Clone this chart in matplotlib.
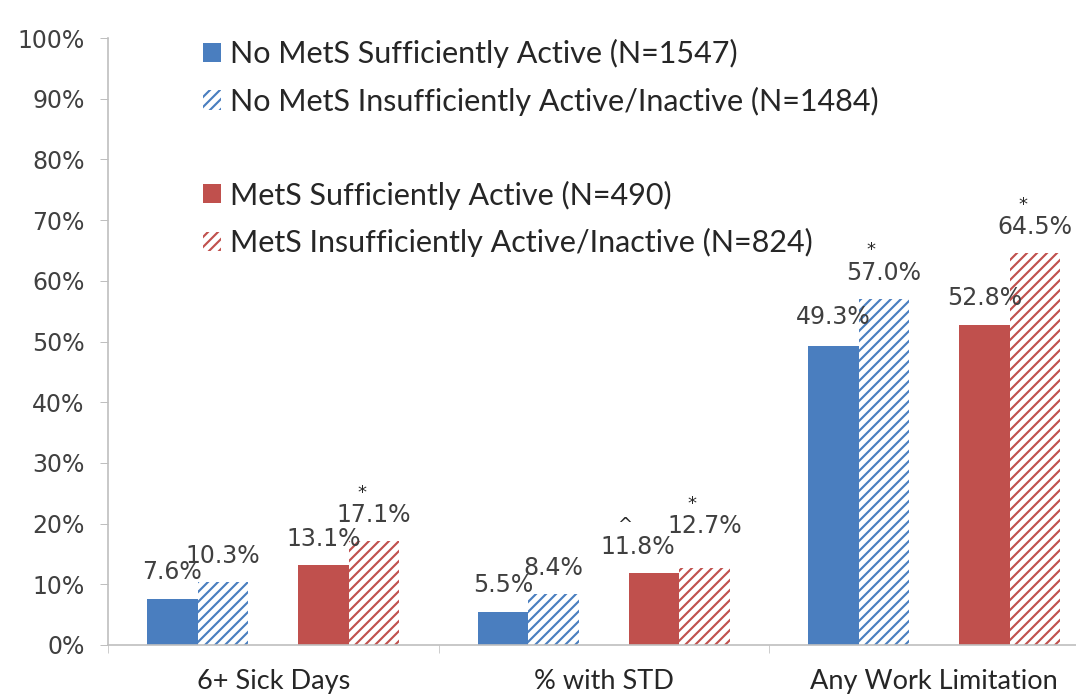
import numpy as np
import matplotlib.pyplot as plt
from matplotlib.patches import Patch

# categories and series (percent)
categories = ['6+ Sick Days', '% with STD', 'Any Work Limitation']
series_labels = ['No MetS Sufficiently Active (N=1547)',
                 'No MetS Insufficiently Active/Inactive (N=1484)',
                 'MetS Sufficiently Active (N=490)',
                 'MetS Insufficiently Active/Inactive (N=824)']
no_mets_active = [7.6, 5.5, 49.3]
no_mets_inactive = [10.3, 8.4, 57.0]
mets_active = [13.1, 11.8, 52.8]
mets_inactive = [17.1, 12.7, 64.5]
# significance marks above bars
no_mets_active_marks = ['', '', '']
no_mets_inactive_marks = ['', '', '*']
mets_active_marks = ['', '^', '']
mets_inactive_marks = ['*', '*', '*']

blue = '#4a7ebf'
red = '#c0504d'
txt = '#404040'

# k converts sizes picked for a 100 dpi figure
DPI = 90
k = 100 / DPI

plt.rcParams['hatch.linewidth'] = 1.7

fig = plt.figure(figsize=(1076/DPI, 698/DPI), dpi=DPI)
ax = fig.add_axes([108/1076, 53/698, 968/1076, 607/698])

x = np.arange(len(categories))
w = 0.1525
offsets = [-2*w, -w, w, 2*w]
colors = [blue, blue, red, red]
hatches = [None, '///', None, '///']
values = [no_mets_active, no_mets_inactive, mets_active, mets_inactive]
marks = [no_mets_active_marks, no_mets_inactive_marks, mets_active_marks, mets_inactive_marks]

# small nudges for crowded labels (points): (series, category) -> (dx, dy)
nudge = {(2, 1): (-12, 0), (3, 1): (0, 11), (0, 2): (0, 2)}

for s in range(4):
    if hatches[s]:
        bars = ax.bar(x + offsets[s], values[s], width=w, color='white',
                      edgecolor=colors[s], hatch=hatches[s], linewidth=0)
    else:
        bars = ax.bar(x + offsets[s], values[s], width=w, color=colors[s], linewidth=0)
    for i, b in enumerate(bars):
        dx, dy = nudge.get((s, i), (0, 0))
        v = values[s][i]
        ax.annotate('%.1f%%' % v, (b.get_x() + b.get_width()/2, v),
                    xytext=(dx*k, (14 + dy)*k), textcoords='offset points',
                    ha='center', va='baseline', fontsize=17*k, color=txt,
                    family='DejaVu Sans')
        if marks[s][i]:
            ax.annotate(marks[s][i], (b.get_x() + b.get_width()/2, v),
                        xytext=((dx - 9)*k, (35 + dy)*k), textcoords='offset points',
                        ha='center', va='center', fontsize=13*k, color='#262626')

ax.set_ylim(0, 100)
ax.set_xlim(-0.5, -0.5 + 968/330.5)
ax.set_yticks(np.arange(0, 101, 10))
ax.set_yticklabels(['%d%%' % t for t in range(0, 101, 10)], fontsize=17*k, color=txt)
ax.set_xticks(x)
ax.set_xticklabels(categories, fontsize=19.5*k, color='#262626', family='Lato')
ax.set_xticks([-0.5, 0.5, 1.5], minor=True)
ax.tick_params(axis='x', which='major', length=0, pad=17*k)
ax.tick_params(axis='x', which='minor', length=6*k, color='#bfbfbf', direction='out')
ax.tick_params(axis='y', length=6*k, color='#bfbfbf', pad=11*k)

for side in ['top', 'right']:
    ax.spines[side].set_visible(False)
ax.spines['left'].set_color('#bfbfbf')
ax.spines['bottom'].set_color('#bfbfbf')
ax.spines['left'].set_linewidth(1.2*k)
ax.spines['bottom'].set_linewidth(1.2*k)

handles = [Patch(facecolor=blue, edgecolor=blue, linewidth=0),
           Patch(facecolor='white', edgecolor=blue, hatch='///', linewidth=0),
           Patch(visible=False),
           Patch(facecolor=red, edgecolor=red, linewidth=0),
           Patch(facecolor='white', edgecolor=red, hatch='///', linewidth=0)]
labels = series_labels[:2] + [' '] + series_labels[2:]
leg = ax.legend(handles, labels, loc='upper left', bbox_to_anchor=(0.098, 0.998),
                frameon=False, borderpad=0, borderaxespad=0,
                handlelength=0.6, handleheight=0.6,
                handletextpad=0.3, labelspacing=0.6,
                prop={'family': 'Lato', 'size': 22*k})
for t in leg.get_texts():
    t.set_color('#262626')

fig.savefig('out.png', dpi=DPI)
